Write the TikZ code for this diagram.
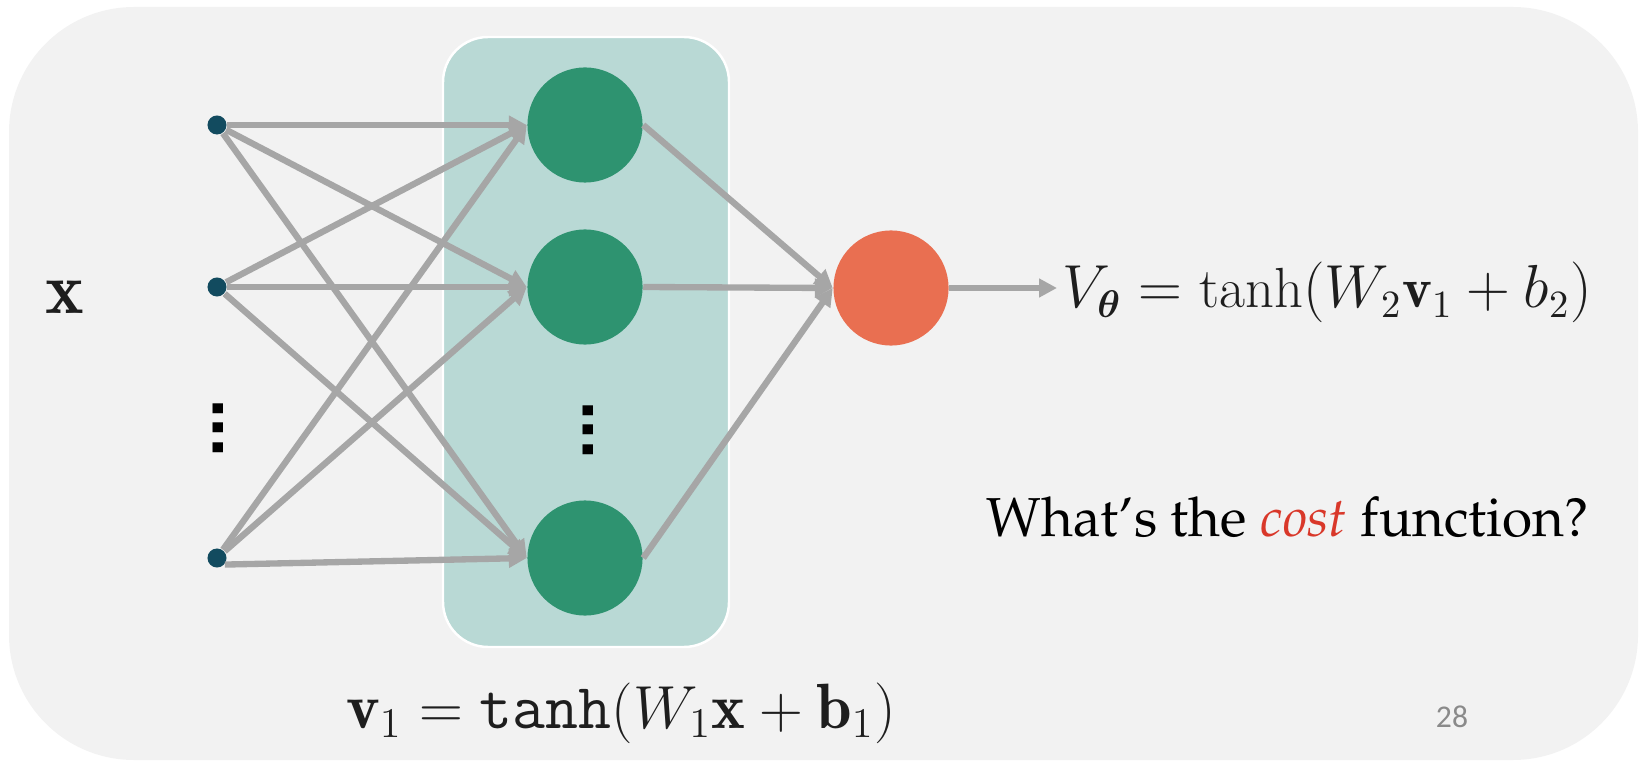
\documentclass[tikz,border=0pt]{standalone}
\usepackage[T1]{fontenc}
\usepackage{fontspec}
\usepackage{bm}
\usetikzlibrary{arrows.meta}

\newfontfamily\pagefont{Carlito}
\newfontfamily\dotfont{Liberation Sans}
\newcommand{\palfont}{\fontencoding{T1}\fontfamily{ppl}\selectfont}

\definecolor{bggray}{HTML}{F2F2F2}
\definecolor{layerteal}{HTML}{B9D9D5}
\definecolor{hidgreen}{HTML}{2E9370}
\definecolor{outorange}{HTML}{E96F51}
\definecolor{inblue}{HTML}{124B5F}
\definecolor{edgegray}{HTML}{A6A6A6}
\definecolor{costred}{HTML}{D9382A}
\definecolor{eqblack}{HTML}{1E1E1E}

\begin{document}
\begin{tikzpicture}[
x=0.01cm, y=-0.01cm,
input/.style={circle, fill=inblue, inner sep=0pt, minimum size=0.19cm},
hidden/.style={circle, fill=hidgreen, inner sep=0pt, minimum size=1.15cm},
output/.style={circle, fill=outorange, inner sep=0pt, minimum size=1.15cm},
edge/.style={draw=edgegray, line width=1.8pt, -{Triangle[length=5.1pt,width=5.1pt]}},
vdotsnode/.style={rotate=90, inner sep=0pt, font=\dotfont\bfseries\fontsize{20}{20}\selectfont},
eq/.style={text=eqblack, inner sep=0pt, font=\fontsize{16.1}{20}\selectfont}
]

\useasboundingbox (0,0) rectangle (1640,761);

% slide background
\fill[bggray, rounded corners=1.25cm] (9,7) rectangle (1638,760);

% hidden layer box
\draw[fill=layerteal, draw=white, line width=0.7pt, rounded corners=0.45cm] (443,37) rectangle (729,647);

% neurons
\node[input] (i1) at (217,125) {};
\node[input] (i2) at (217,287) {};
\node[input] (i3) at (217,558) {};

\node[hidden] (h1) at (585,125) {};
\node[hidden] (h2) at (585,287) {};
\node[hidden] (h3) at (585,558) {};

\node[output] (o) at (891,288) {};
\coordinate (vend) at (1057,288);

\node[vdotsnode] (idots) at (218,428) {...};
\node[vdotsnode] (hdots) at (588,430) {...};

% weights
\draw[edge] (i1) -- (h1.west);
\draw[edge] (i1) -- (h2.west);
\draw[edge] (i1) -- (h3.west);
\draw[edge] (i2) -- (h1.west);
\draw[edge] (i2) -- (h2.west);
\draw[edge] (i2) -- (h3.west);
\draw[edge] (i3) -- (h1.west);
\draw[edge] (i3) -- (h2.west);
\draw[edge] (i3.-40) -- (h3.west);

\draw[edge] (h1.east) -- (o.west);
\draw[edge] (h2.east) -- (o.west);
\draw[edge] (h3.east) -- (o.west);
\draw[edge] (o.east) -- (vend);

% labels
\node[text=eqblack, font=\fontsize{20.8}{24}\selectfont] (xlab) at (65,297) {$\mathbf{x}$};
\node[eq, anchor=base west] (veq) at (1062,308) {$V_{\bm{\theta}} = \tanh(W_2\mathbf{v}_1 + b_2)$};
\node[eq, anchor=base, font=\fontsize{18.2}{20}\selectfont] (heq) at (621,728) {$\mathbf{v}_1 = \texttt{tanh}(W_1\mathbf{x} + \mathbf{b}_1)$};
\node[anchor=base west, inner sep=0pt, font=\palfont\fontsize{15.6}{19}\selectfont] (cost) at (986,536) {What's the \textit{\textcolor{costred}{cost}} function?};
\node[anchor=base, inner sep=0pt, text={rgb,255:red,138;green,138;blue,138}, font=\pagefont\fontsize{9}{11}\selectfont] (page) at (1452,727) {28};

\end{tikzpicture}
\end{document}
